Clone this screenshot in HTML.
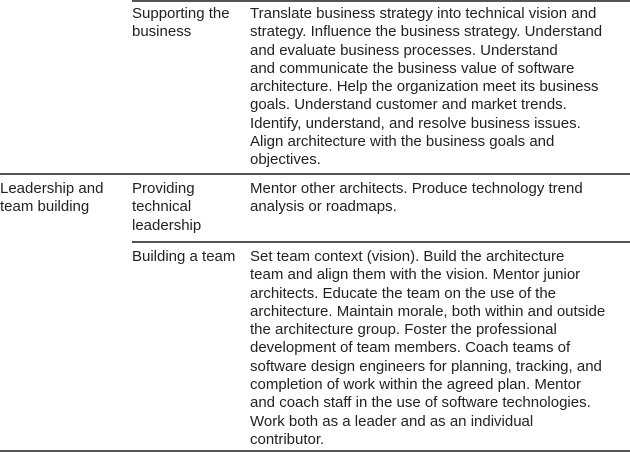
<!DOCTYPE html>
<html><head><meta charset="utf-8"><style>
body{margin:0;width:630px;height:452px;background:#fff;position:relative;overflow:hidden;font-family:"Liberation Sans",Arial,sans-serif;font-size:15px;line-height:18.3px;color:#222;}
.t{position:absolute;white-space:nowrap;}
.l{position:absolute;background:#555;}
</style></head><body>
<div class="l" style="left:132px;top:0;width:498px;height:2px"></div>
<div class="t" style="left:132px;top:5px">Supporting the<br>business</div>
<div class="t" style="left:250px;top:5px">Translate business strategy into technical vision and<br>strategy. Influence the business strategy. Understand<br>and evaluate business processes. Understand<br>and communicate the business value of software<br>architecture. Help the organization meet its business<br>goals. Understand customer and market trends.<br>Identify, understand, and resolve business issues.<br>Align architecture with the business goals and<br>objectives.</div>
<div class="l" style="left:0;top:173px;width:630px;height:2px"></div>
<div class="t" style="left:0;top:180px">Leadership and<br>team building</div>
<div class="t" style="left:132px;top:180px">Providing<br>technical<br>leadership</div>
<div class="t" style="left:250px;top:180px">Mentor other architects. Produce technology trend<br>analysis or roadmaps.</div>
<div class="l" style="left:132px;top:241px;width:498px;height:1.5px"></div>
<div class="t" style="left:132px;top:248px">Building a team</div>
<div class="t" style="left:250px;top:248px">Set team context (vision). Build the architecture<br>team and align them with the vision. Mentor junior<br>architects. Educate the team on the use of the<br>architecture. Maintain morale, both within and outside<br>the architecture group. Foster the professional<br>development of team members. Coach teams of<br>software design engineers for planning, tracking, and<br>completion of work within the agreed plan. Mentor<br>and coach staff in the use of software technologies.<br>Work both as a leader and as an individual<br>contributor.</div>
<div class="l" style="left:0;top:450px;width:630px;height:2px"></div>
</body></html>
